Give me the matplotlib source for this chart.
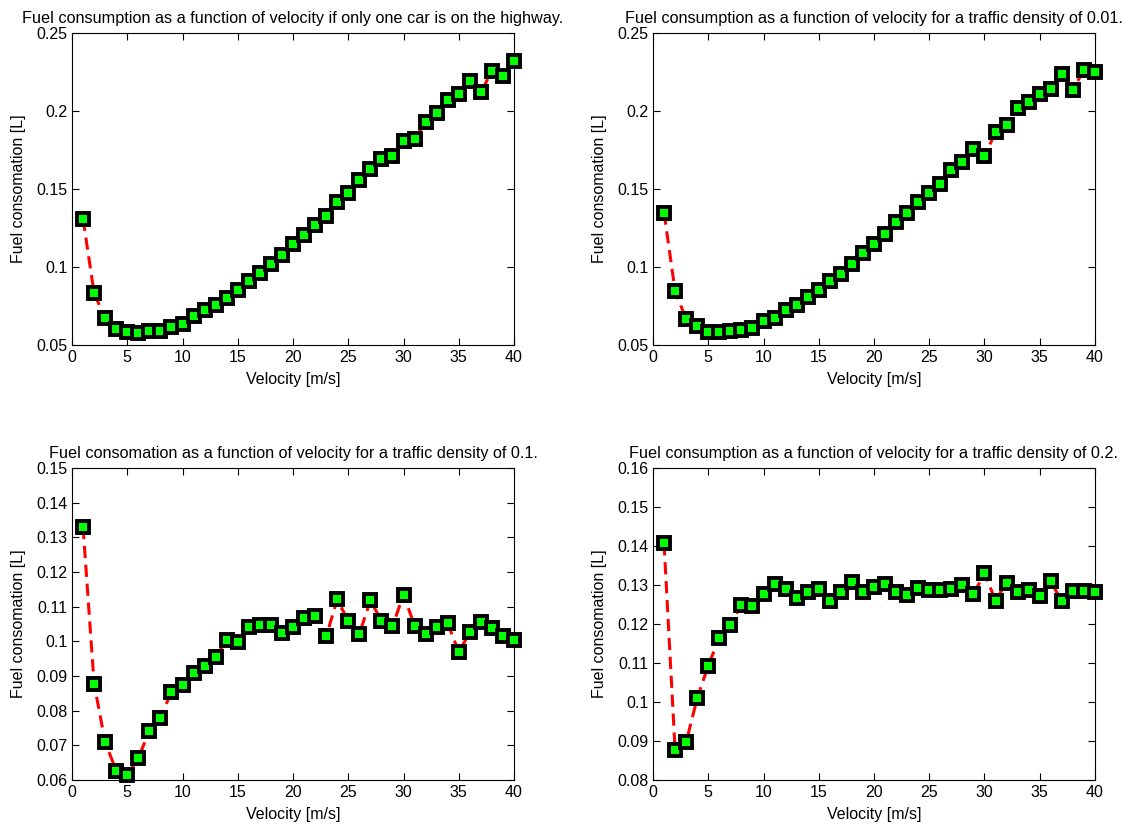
import matplotlib
matplotlib.use("Agg")
import matplotlib.pyplot as plt

plt.rcParams['font.family'] = ['Liberation Sans', 'DejaVu Sans']

# data
velocity = list(range(1, 41))

fuel_single = [0.1309, 0.0832, 0.0671, 0.0601, 0.0581, 0.0575, 0.0590, 0.0590, 0.0618, 0.0635,
               0.0686, 0.0724, 0.0757, 0.0799, 0.0853, 0.0913, 0.0960, 0.1018, 0.1078, 0.1148,
               0.1206, 0.1270, 0.1330, 0.1416, 0.1473, 0.1559, 0.1629, 0.1694, 0.1709, 0.1809,
               0.1822, 0.1927, 0.1987, 0.2068, 0.2111, 0.2190, 0.2119, 0.2258, 0.2226, 0.2318]

fuel_d001 = [0.1349, 0.0846, 0.0665, 0.0624, 0.0581, 0.0581, 0.0590, 0.0596, 0.0607, 0.0656,
             0.0675, 0.0724, 0.0757, 0.0806, 0.0853, 0.0913, 0.0956, 0.1020, 0.1088, 0.1148,
             0.1210, 0.1291, 0.1345, 0.1416, 0.1473, 0.1531, 0.1619, 0.1672, 0.1756, 0.1713,
             0.1863, 0.1910, 0.2017, 0.2059, 0.2111, 0.2141, 0.2235, 0.2136, 0.2265, 0.2248]

fuel_d01 = [0.1330, 0.0878, 0.0709, 0.0627, 0.0614, 0.0664, 0.0740, 0.0778, 0.0855, 0.0874,
            0.0908, 0.0930, 0.0954, 0.1005, 0.0997, 0.1042, 0.1048, 0.1048, 0.1025, 0.1042,
            0.1067, 0.1072, 0.1014, 0.1121, 0.1059, 0.1021, 0.1118, 0.1060, 0.1043, 0.1135,
            0.1045, 0.1021, 0.1042, 0.1052, 0.0969, 0.1026, 0.1055, 0.1038, 0.1016, 0.1004]

fuel_d02 = [0.1407, 0.0877, 0.0897, 0.1010, 0.1093, 0.1165, 0.1198, 0.1249, 0.1245, 0.1277,
            0.1302, 0.1289, 0.1266, 0.1282, 0.1290, 0.1260, 0.1281, 0.1307, 0.1283, 0.1295,
            0.1302, 0.1281, 0.1275, 0.1292, 0.1287, 0.1287, 0.1289, 0.1300, 0.1277, 0.1330,
            0.1260, 0.1306, 0.1281, 0.1287, 0.1271, 0.1309, 0.1258, 0.1285, 0.1285, 0.1282]

titles = ["Fuel consumption as a function of velocity if only one car is on the highway.",
          "Fuel consumption as a function of velocity for a traffic density of 0.01.",
          "Fuel consomation as a function of velocity for a traffic density of 0.1.",
          "Fuel consumption as a function of velocity for a traffic density of 0.2."]
series = [fuel_single, fuel_d001, fuel_d01, fuel_d02]
ylims = [(0.05, 0.25), (0.05, 0.25), (0.06, 0.15), (0.08, 0.16)]
ysteps = [0.05, 0.05, 0.01, 0.01]

fig = plt.figure(figsize=(11.26, 8.27), dpi=100)
W, H = 1126, 827
# axes boxes in pixels: left, top, right, bottom
boxes = [(72, 33, 514, 345), (653, 33, 1095, 345),
         (72, 468, 514, 780), (653, 468, 1095, 780)]

for i in range(4):
    l, t, r, b = boxes[i]
    ax = fig.add_axes([l / W, 1 - b / H, (r - l) / W, (b - t) / H])
    ax.plot(velocity, series[i], color="red", linestyle="--", linewidth=2.2,
            dashes=(4, 2.2), marker="s", markersize=8.6, markerfacecolor=(0, 1, 0),
            markeredgecolor="black", markeredgewidth=2.8, clip_on=False, zorder=3)
    ax.set_xlim(0, 40)
    ax.set_ylim(*ylims[i])
    ax.set_xticks(range(0, 41, 5))
    lo, hi = ylims[i]
    n = int(round((hi - lo) / ysteps[i]))
    yt = [round(lo + k * ysteps[i], 2) for k in range(n + 1)]
    ax.set_yticks(yt)
    ax.set_yticklabels([("%g" % v) for v in yt])
    ax.tick_params(direction="in", top=True, right=True, labelsize=11.5, length=5, width=0.8)
    for s in ax.spines.values():
        s.set_linewidth(0.8)
    ax.set_title(titles[i], fontsize=11.7, pad=7)
    ax.set_xlabel("Velocity [m/s]", fontsize=11.5, labelpad=5)
    ax.set_ylabel("Fuel consomation [L]", fontsize=11.5, labelpad=7)

plt.savefig("out.png", dpi=100)
